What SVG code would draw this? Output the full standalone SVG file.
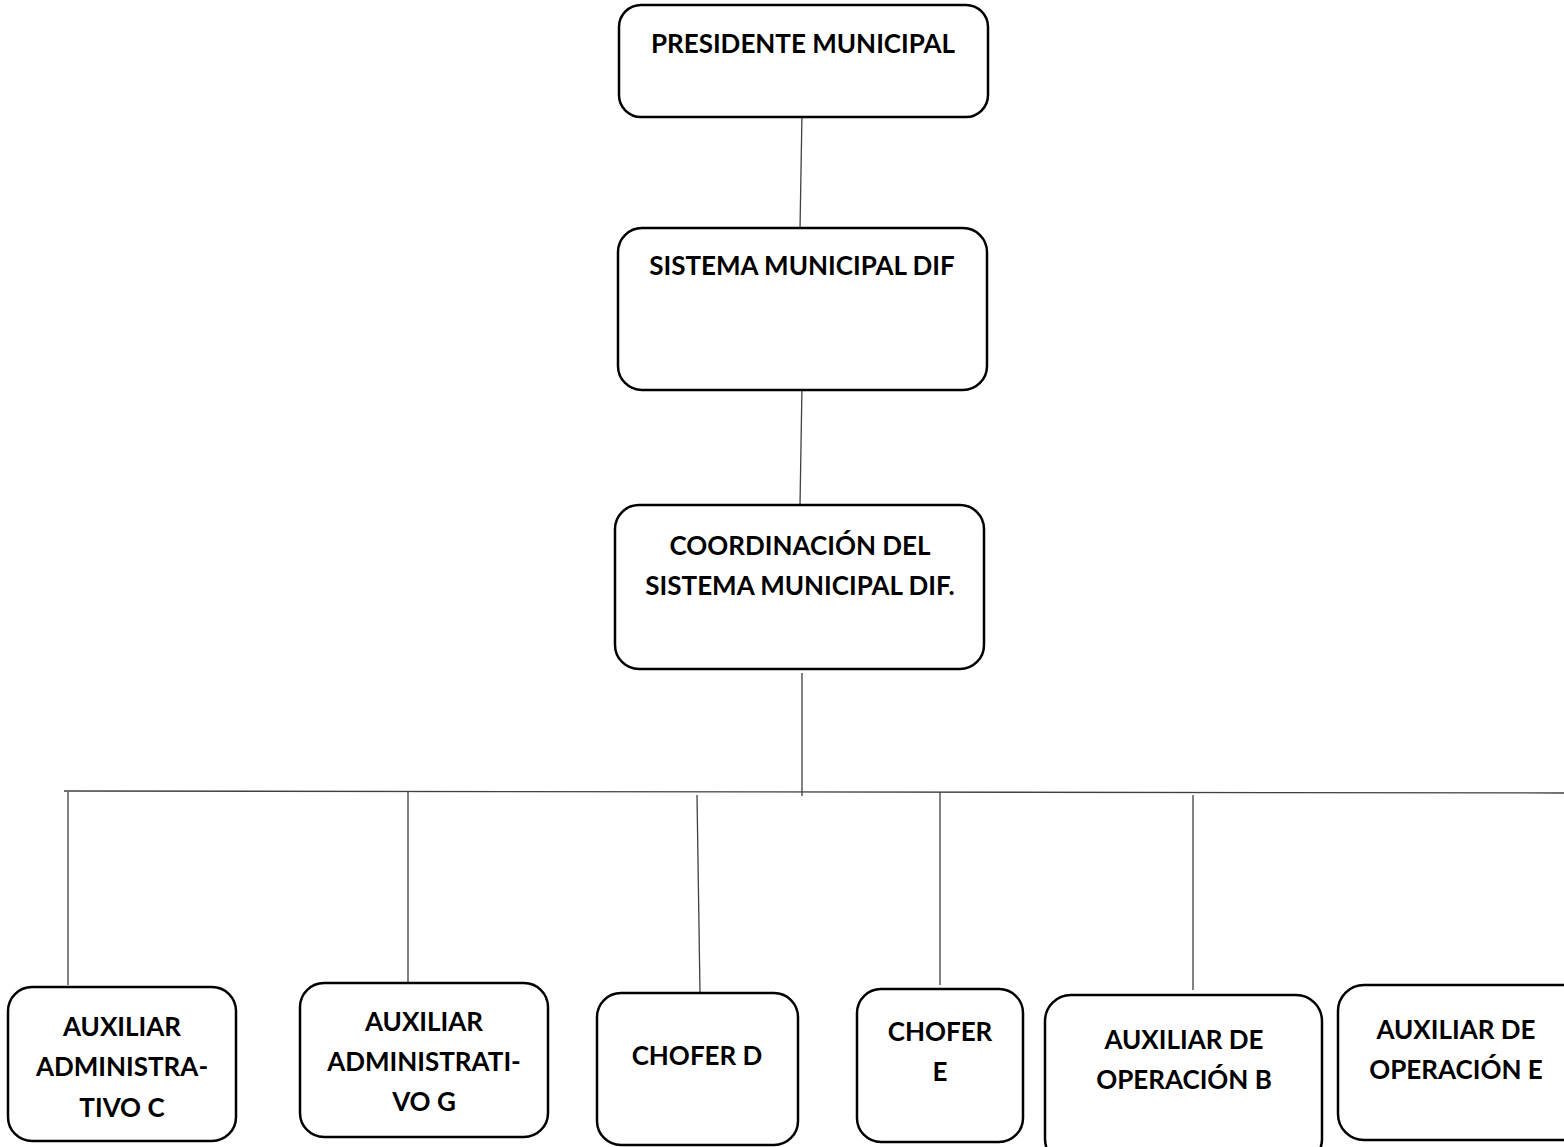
<svg xmlns="http://www.w3.org/2000/svg" width="1564" height="1147" viewBox="0 0 1564 1147">
<style>
.box{fill:#fff;stroke:#000;stroke-width:2.5}
.t{font-family:"Lato","Liberation Sans",sans-serif;font-weight:bold;font-size:26px;fill:#000;text-anchor:middle}
.c{stroke:#404040;stroke-width:1.3;fill:none}
</style>
<rect width="1564" height="1147" fill="#fff"/>
<g id="connectors">
<line class="c" x1="802" y1="113" x2="800" y2="229"/>
<line class="c" x1="802" y1="386" x2="800" y2="505"/>
<line class="c" x1="802" y1="673" x2="802" y2="796"/>
<line class="c" x1="64" y1="791" x2="1564" y2="793"/>
<line class="c" x1="68" y1="792" x2="68" y2="985"/>
<line class="c" x1="408" y1="792" x2="408" y2="983"/>
<line class="c" x1="697" y1="795" x2="700" y2="993"/>
<line class="c" x1="940" y1="792" x2="940" y2="985"/>
<line class="c" x1="1193" y1="795" x2="1193" y2="990"/>
</g>
<g id="presidente">
<rect class="box" x="619" y="5" width="369" height="112" rx="22"/>
<text class="t" x="803" y="53">PRESIDENTE MUNICIPAL</text>
</g>
<g id="sistema">
<rect class="box" x="618" y="228" width="369" height="162" rx="24"/>
<text class="t" x="802" y="275">SISTEMA MUNICIPAL DIF</text>
</g>
<g id="coordinacion">
<rect class="box" x="615" y="505" width="369" height="164" rx="24"/>
<text class="t" x="800" y="555">COORDINACIÓN DEL</text>
<text class="t" x="800" y="595">SISTEMA MUNICIPAL DIF.</text>
</g>
<g id="aux-admin-c">
<rect class="box" x="8" y="987" width="228" height="154" rx="24"/>
<text class="t" x="122" y="1036">AUXILIAR</text>
<text class="t" x="122" y="1076">ADMINISTRA-</text>
<text class="t" x="122" y="1117">TIVO C</text>
</g>
<g id="aux-admin-g">
<rect class="box" x="300" y="983" width="248" height="154" rx="24"/>
<text class="t" x="424" y="1031">AUXILIAR</text>
<text class="t" x="424" y="1071">ADMINISTRATI-</text>
<text class="t" x="424" y="1111">VO G</text>
</g>
<g id="chofer-d">
<rect class="box" x="597" y="993" width="201" height="152" rx="24"/>
<text class="t" x="697" y="1065">CHOFER D</text>
</g>
<g id="chofer-e">
<rect class="box" x="857" y="989" width="166" height="153" rx="24"/>
<text class="t" x="940" y="1041">CHOFER</text>
<text class="t" x="940" y="1081">E</text>
</g>
<g id="aux-op-b">
<rect class="box" x="1045" y="995" width="277" height="170" rx="26"/>
<text class="t" x="1184" y="1049">AUXILIAR DE</text>
<text class="t" x="1184" y="1089">OPERACIÓN B</text>
</g>
<g id="aux-op-e">
<rect class="box" x="1338" y="985" width="260" height="155" rx="26"/>
<text class="t" x="1456" y="1039">AUXILIAR DE</text>
<text class="t" x="1456" y="1079">OPERACIÓN E</text>
</g>
</svg>
